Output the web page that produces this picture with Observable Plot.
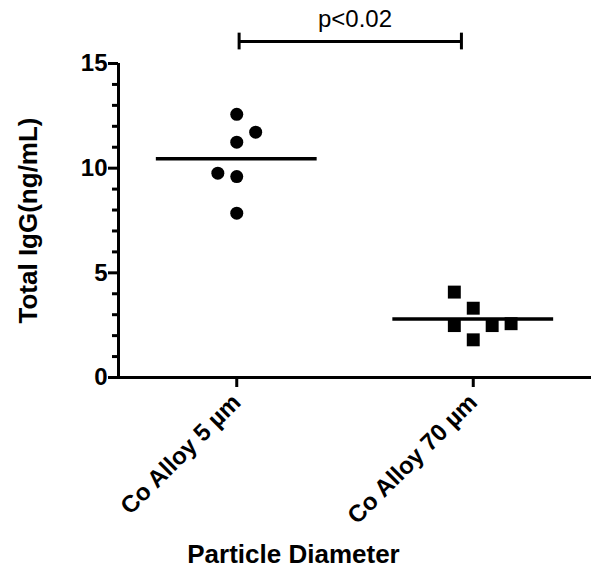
<!DOCTYPE html>
<html>
<head>
<meta charset="utf-8">
<script src="https://cdn.jsdelivr.net/npm/d3@7"></script>
<script src="https://cdn.jsdelivr.net/npm/@observablehq/plot@0.6"></script>
<style>
  html, body { margin: 0; padding: 0; background: #fff; }
</style>
</head>
<body>
<div id="chart"></div>
<script>
// ---- data ----
const groups = ["Co Alloy 5 µm", "Co Alloy 70 µm"];
const alloy5Values = [12.57, 11.72, 11.24, 9.76, 9.60, 7.85];
const alloy5Column = [0, 1, 0, -1, 0, 0];
const alloy70Values = [4.08, 3.31, 2.48, 2.48, 2.57, 1.80];
const alloy70Column = [-1, 0, -1, 1, 2, 0];
const groupMeans = [10.45, 2.80];
const yMajorTicks = [0, 5, 10, 15];
const yMinorTicks = [1, 2, 3, 4, 6, 7, 8, 9, 11, 12, 13, 14];
const significance = ["p<0.02"];
const significanceLevel = [16.05];
const yTitle = "Total IgG(ng/mL)";
const xTitle = "Particle Diameter";

// ---- build tables ----
const colStep = 0.08;
const pts5 = alloy5Values.map((v, i) => ({group: 1, col: alloy5Column[i], value: v}));
const pts70 = alloy70Values.map((v, i) => ({group: 2, col: alloy70Column[i], value: v}));
const font = "'Liberation Sans', Arial, Helvetica, sans-serif";

const chart = Plot.plot({
  width: 600,
  height: 572,
  marginLeft: 118,
  marginRight: 9,
  marginTop: 63,
  marginBottom: 195,
  style: {fontFamily: font, background: "white", color: "black", overflow: "visible"},
  x: {domain: [0.5, 2.5], axis: null},
  y: {domain: [0, 15], axis: null},
  marks: [
    Plot.axisY({ticks: yMinorTicks, tickSize: 6, tickFormat: () => "", strokeWidth: 3, label: null}),
    Plot.axisY({ticks: yMajorTicks, tickSize: 10, tickPadding: 1, strokeWidth: 3, fontSize: 24, fontWeight: "bold", label: null}),
    Plot.axisX({ticks: [1, 2], tickFormat: (d) => groups[d - 1], tickSize: 10, tickPadding: 11, tickRotate: -45,
                strokeWidth: 3, fontSize: 24, fontWeight: "bold", label: null}),
    Plot.ruleX([0.5], {strokeWidth: 3}),
    Plot.ruleY([0], {strokeWidth: 3}),
    Plot.dot(pts5, {x: (d) => d.group + d.col * colStep, y: "value", r: 6.5, fill: "black", stroke: "none", symbol: "circle"}),
    Plot.dot(pts70, {x: (d) => d.group + d.col * colStep, y: "value", r: 7.3, fill: "black", stroke: "none", symbol: "square"}),
    Plot.ruleY(groupMeans, {x1: (d, i) => i + 1 - 0.34, x2: (d, i) => i + 1 + 0.34, y: (d) => d, strokeWidth: 3.5}),
    // significance bracket
    Plot.ruleY(significanceLevel, {x1: 1.01, x2: 1.95, y: (d) => d, strokeWidth: 3}),
    Plot.ruleX([1.01, 1.95], {x: (d) => d, y1: significanceLevel[0] - 0.4, y2: significanceLevel[0] + 0.4, strokeWidth: 3}),
    Plot.text(significance, {x: 1.5, y: significanceLevel[0], text: (d) => d, dy: -22, fontSize: 24, fill: "black"}),
    // titles
    Plot.text([yTitle], {frameAnchor: "left", text: (d) => d, rotate: -90, dx: -82, textAnchor: "middle", lineAnchor: "bottom",
                         fontSize: 26, fontWeight: "bold", fill: "black"}),
    Plot.text([xTitle], {frameAnchor: "bottom", text: (d) => d, dx: -61.5, dy: 185, textAnchor: "middle", lineAnchor: "bottom",
                         fontSize: 26, fontWeight: "bold", fill: "black"})
  ]
});
document.getElementById("chart").appendChild(chart);
</script>
</body>
</html>
